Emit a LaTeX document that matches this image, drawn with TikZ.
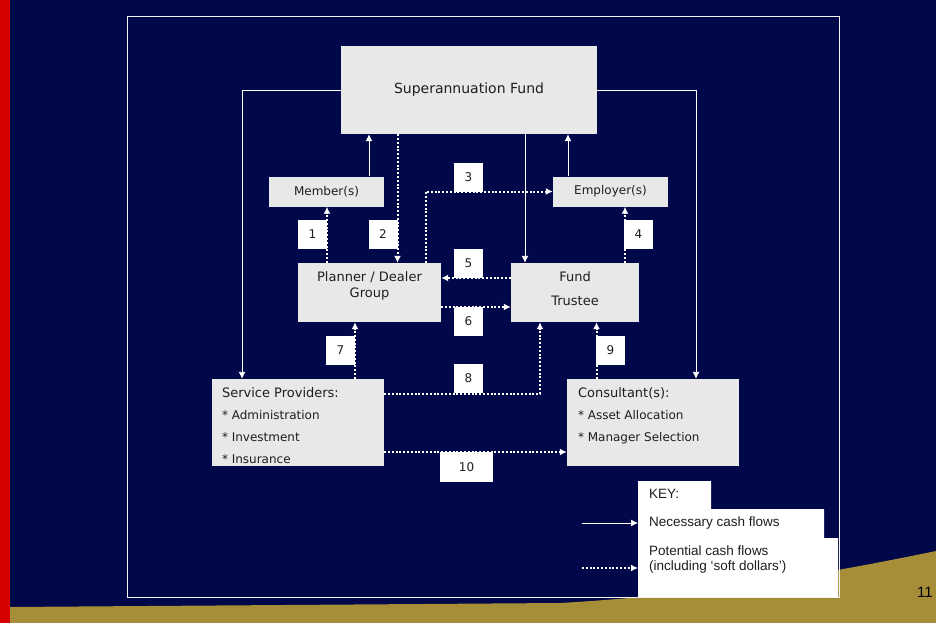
\documentclass[tikz,border=0pt]{standalone}
\usepackage{fontspec}
\setmainfont{DejaVu Sans}
\newfontfamily\keyfont{Liberation Sans}
\usetikzlibrary{arrows.meta}
\definecolor{slidenavy}{RGB}{0,8,74}
\definecolor{slidered}{RGB}{214,0,0}
\definecolor{slidegold}{RGB}{166,142,56}
\definecolor{boxgray}{RGB}{232,232,232}
\definecolor{inktext}{RGB}{30,30,30}
\tikzset{
	flowbox/.style={fill=boxgray, inner sep=0pt, text=inktext}
}
\tikzset{
	boxtext/.style={inner sep=0pt, text=inktext}
}
\tikzset{
	numbox/.style={fill=white, inner sep=0pt, minimum width=29pt, minimum height=29pt, text=inktext, font=\fontsize{12}{14}\selectfont}
}
\tikzset{
	keytext/.style={inner xsep=11pt, inner ysep=0pt, text=inktext, font=\keyfont\fontsize{13.5}{15.5}\selectfont}
}
\tikzset{
	cash/.style={draw=white, line width=0.9pt, -{Latex[length=7pt,width=7pt]}},
	softcash/.style={draw=white, line width=2pt, dash pattern=on 2pt off 1.8pt, -{Latex[length=7pt,width=7pt]}}
}

\begin{document}
\begin{tikzpicture}[x=1pt, y=-1pt]
      \useasboundingbox (0,0) rectangle (936,623);
      % slide
      \fill[slidenavy] (0,0) rectangle (936,623);
      \fill[slidegold] (9,607) -- (560,603) .. controls (700,595) and (820,575) .. (936,551) -- (936,623) -- (9,623) -- cycle;
      \fill[slidered] (0,0) rectangle (9.5,623);
      \node[anchor=west, inner sep=0pt, font=\keyfont\fontsize{15}{17}\selectfont] (pagenum) at (917,592) {11};
      \draw[white!90!gray, line width=1pt] (127,17) rectangle (839,597);
      % parties
      \node[flowbox, minimum width=256pt, minimum height=88pt, font=\fontsize{14}{16}\selectfont] (fund) at (469,90) {Superannuation Fund};
      \node[flowbox, minimum width=115pt, minimum height=30pt, font=\fontsize{12}{14}\selectfont] (member) at (326.5,191.5) {Member(s)};
      \node[flowbox, minimum width=115pt, minimum height=30pt, font=\fontsize{12}{14}\selectfont] (employer) at (610.5,191.5) {Employer(s)};
      \node[flowbox, minimum width=143pt, minimum height=59pt] (planner) at (369.5,292.5) {};
      \node[boxtext, anchor=north, align=center, font=\fontsize{13}{16}\selectfont] (planner-txt) at ([yshift=-8.5pt]planner.north) {Planner / Dealer\\Group};
      \node[flowbox, minimum width=128pt, minimum height=59pt] (trustee) at (575,292.5) {};
      \node[boxtext, anchor=north, align=center, font=\fontsize{13}{24}\selectfont] (trustee-txt) at ([yshift=-8.5pt]trustee.north) {Fund\\Trustee};
      \node[flowbox, minimum width=172pt, minimum height=87pt] (service) at (298,422.5) {};
      \node[boxtext, anchor=north west, align=left, font=\fontsize{12}{22}\selectfont] (service-txt) at ([xshift=10pt, yshift=-9pt]service.north west)
        {{\fontsize{13}{22}\selectfont Service Providers:}\\* Administration\\* Investment\\* Insurance};
      \node[flowbox, minimum width=172pt, minimum height=87pt] (consult) at (653,422.5) {};
      \node[boxtext, anchor=north west, align=left, font=\fontsize{12}{22}\selectfont] (consult-txt) at ([xshift=11pt, yshift=-9pt]consult.north west)
        {{\fontsize{13}{22}\selectfont Consultant(s):}\\* Asset Allocation\\* Manager Selection};
      % flow numbers
      \foreach \n/\x/\y in {1/312.5/234.5, 2/383/234.5, 3/468.5/177, 4/638.5/234.5, 5/468.5/263.5, 6/468.5/321.5, 7/340.5/350.5, 8/468.5/378.5, 9/610.5/350.5}
        {\node[numbox] (num\n) at (\x,\y) {\n};}
      \node[numbox, minimum width=53pt, minimum height=30pt] (num10) at (466.5,467) {10};
      % necessary flows
      \draw[cash] (fund.west) -| ([xshift=-56pt]service.north);
      \draw[cash] (fund.east) -| ([xshift=43pt]consult.north);
      \draw[cash] ([xshift=42.5pt]member.north) -- ([xshift=-100pt]fund.south);
      \draw[cash] ([xshift=-42.5pt]employer.north) -- ([xshift=99pt]fund.south);
      \draw[cash] ([xshift=56pt]fund.south) -- ([xshift=-50pt]trustee.north);
      % potential flows
      \draw[softcash] ([xshift=-71.5pt]fund.south) -- ([xshift=28pt]planner.north);
      \draw[softcash] ([xshift=56.5pt]planner.north) |- (employer.west);
      \draw[softcash] ([xshift=-42.5pt]planner.north) -- ([xshift=0.5pt]member.south);
      \draw[softcash] ([xshift=50pt]trustee.north) -- ([xshift=14.5pt]employer.south);
      \draw[softcash] ([yshift=14.5pt]trustee.west) -- ([yshift=14.5pt]planner.east);
      \draw[softcash] ([yshift=-14.5pt]planner.east) -- ([yshift=-14.5pt]trustee.west);
      \draw[softcash] ([xshift=57pt]service.north) -- ([xshift=-14.5pt]planner.south);
      \draw[softcash] ([yshift=29pt]service.east) -| ([xshift=-35pt]trustee.south);
      \draw[softcash] ([xshift=-56.5pt]consult.north) -- ([xshift=21.5pt]trustee.south);
      \draw[softcash] ([yshift=-29.5pt]service.east) -- ([yshift=-29.5pt]consult.west);
      % key
      \fill[white] (638,481) rectangle (711,510) (638,509) rectangle (824,538.5) (638,538) rectangle (838,597);
      \node[keytext, anchor=west] (keyhead) at (638,494) {KEY:};
      \node[keytext, anchor=west] (keynec) at (638,523) {Necessary cash flows};
      \node[keytext, anchor=west, align=left] (keypot) at (638,559.5) {Potential cash flows\\(including ‘soft dollars’)};
      \coordinate (nec-tail) at (582,523);
      \coordinate (pot-tail) at (582,568);
      \draw[cash] (nec-tail) -- (keynec.west);
      \draw[softcash] (pot-tail) -- (pot-tail -| keypot.west);
    \end{tikzpicture}
\end{document}
